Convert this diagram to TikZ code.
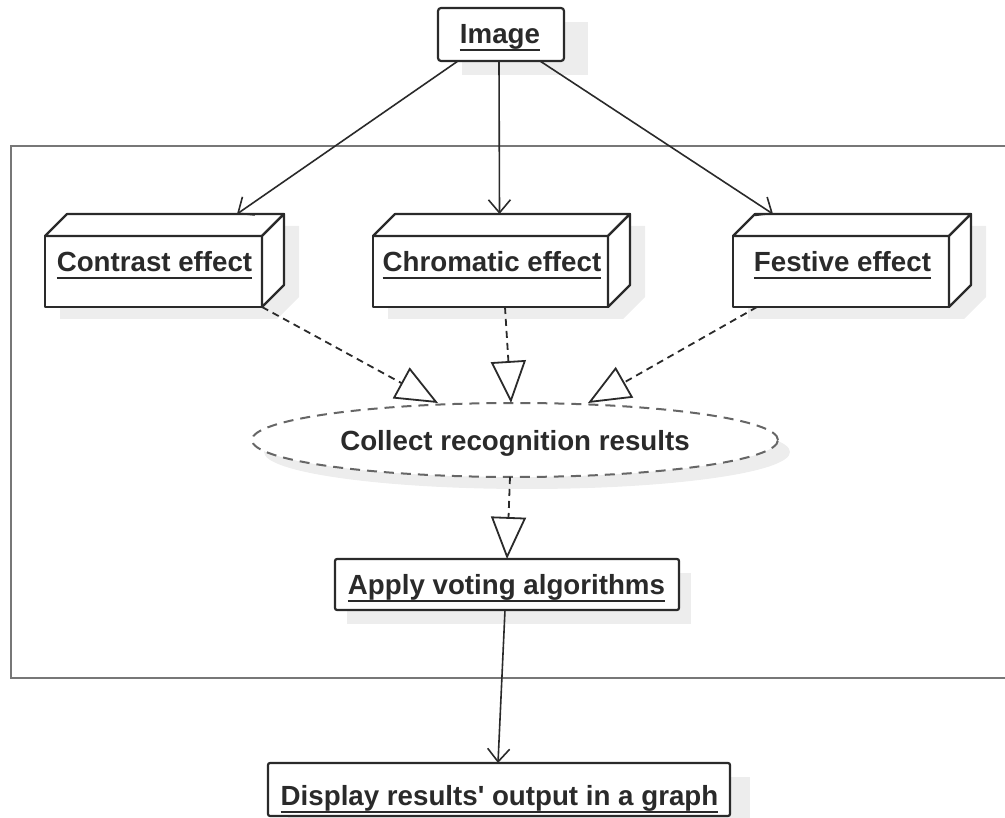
\documentclass[tikz,border=0pt]{standalone}
\usepackage{fontspec}
\setmainfont{Liberation Sans}
\usetikzlibrary{arrows.meta,calc,shapes.geometric}

\definecolor{ink}{HTML}{2A2A2A}
\definecolor{frame}{HTML}{777777}
\definecolor{elgray}{HTML}{666666}
\definecolor{shadowc}{HTML}{EDEDED}

\newcommand{\ulx}[1]{\setbox0\hbox{#1}\leavevmode\rlap{\rule[-7.5pt]{\wd0}{2pt}}\box0}

\newcommand{\cubenode}[5]{%
  \fill[shadowc] (#2-#4/2+15,#3-#5/2+12) -- ++(22,-22) -- (#2+#4/2+37,#3-#5/2-10) -- (#2+#4/2+37,#3+#5/2-10) -- (#2+#4/2+15,#3+#5/2+12) -- (#2-#4/2+15,#3+#5/2+12) -- cycle;
  \node[boxf, minimum width=#4pt, minimum height=#5pt] (#1) at (#2,#3) {};
  \draw[boxf] (#1.north west) -- ++(22,-22) -- ($(#1.north east)+(22,-22)$) -- (#1.north east) -- cycle;
  \draw[boxf] (#1.north east) -- ++(22,-22) -- ($(#1.south east)+(22,-22)$) -- (#1.south east) -- cycle;
}

\begin{document}
\begin{tikzpicture}[x=1pt,y=-1pt,
  txt/.style={font=\bfseries\fontsize{27.7pt}{32pt}\selectfont, text=ink, inner sep=0pt, anchor=base},
  boxf/.style={draw=ink, line width=2.2pt, fill=white, inner sep=0pt, outer sep=0pt, line join=round},
  conn/.style={draw=ink, line width=1.6pt, -{Straight Barb[length=13pt,width=22pt]}},
  real/.style={draw=ink, line width=1.8pt, dash pattern=on 7pt off 5pt, -{Triangle[length=42pt,width=35pt,fill=white,line width=1.8pt]}},
]
\useasboundingbox (0,0) rectangle (1005,818);

% container frame
\draw[frame, line width=2.8pt] (1005,146) -- (11,146) -- (11,678) -- (1005,678);

% Image box
\fill[shadowc] (462,22) rectangle (588,75);
\node[boxf, rounded corners=3pt, minimum width=126pt, minimum height=53pt] (img) at (501,34.5) {};
\node[txt] (imgt) at (500,44) {\ulx{Image}};

% effect cubes
\cubenode{ca}{153.5}{271.5}{217}{71}
\cubenode{ch}{490.5}{271.5}{235}{71}
\cubenode{fe}{841}{271.5}{216}{71}
\node[txt] (cat) at (154.5,272) {\ulx{Contrast effect}};
\node[txt] (cht) at (492,272) {\ulx{Chromatic effect}};
\node[txt] (fet) at (842.5,272) {\ulx{Festive effect}};

% ellipse
\fill[shadowc] (527,452) ellipse [x radius=263, y radius=37];
\node[ellipse, draw=elgray, dash pattern=on 10pt off 7pt, line width=2pt, fill=white,
      minimum width=526pt, minimum height=74pt, inner sep=0pt, outer sep=0pt] (el) at (515,440) {};
\node[txt] (elt) at (515,450) {Collect recognition results};

% Apply box
\fill[shadowc] (347,573) rectangle (691,624);
\node[boxf, rounded corners=2pt, minimum width=344pt, minimum height=51pt] (ap) at (507,584.5) {};
\node[txt] (apt) at (506.5,594) {\ulx{Apply voting algorithms}};

% Display box
\fill[shadowc] (288,777) rectangle (750,830);
\node[boxf, rounded corners=2pt, minimum width=462pt, minimum height=53pt] (ds) at (499,789.5) {};
\node[txt] (dst) at (499.5,805) {\ulx{Display results\textquotesingle\ output in a graph}};

% connectors
\draw[conn] ($(img.south west)+(20,0)$) -- ($(ca.north west)+(192,-22)$);
\draw[conn] ($(img.south)+(-2,0)$) -- ($(ch.north)+(9,-22)$);
\draw[conn] ($(img.south east)+(-24,0)$) -- ($(fe.north west)+(40,-22)$);

\draw[real] (ca.south east) -- ($(el.north)+(-77,0)$);
\draw[real] ($(ch.south)+(14.5,0)$) -- ($(el.north)+(-4,0)$);
\draw[real] ($(fe.south west)+(24,0)$) -- ($(el.north)+(73,0)$);
\draw[real] ($(el.south)+(-5,0)$) -- (ap.north);

\draw[conn] ($(ap.south)+(-2,0)$) -- ($(ds.north)+(-1,0)$);
\end{tikzpicture}
\end{document}
